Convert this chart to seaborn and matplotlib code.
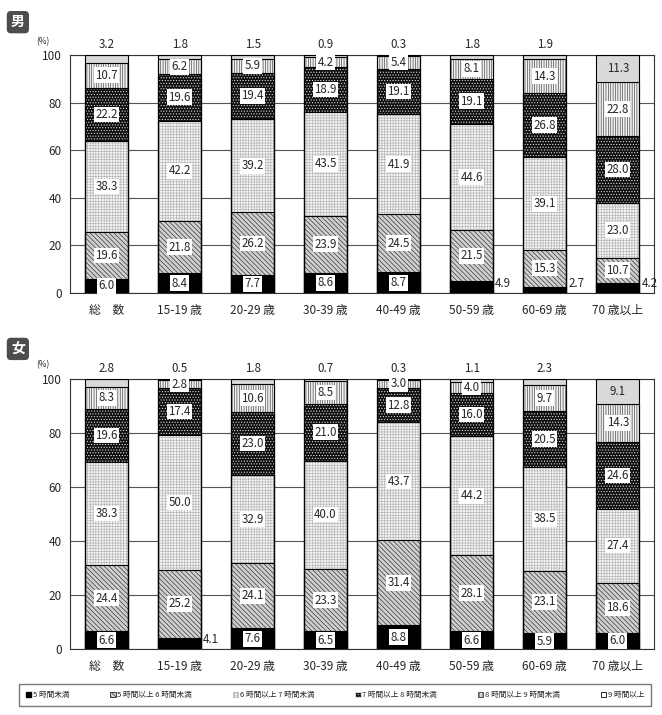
import numpy as np
import matplotlib
matplotlib.use("Agg")
import matplotlib.pyplot as plt
import seaborn as sns
from matplotlib.patches import Patch

sns.set_style("white")
plt.rcParams['font.family'] = ['Noto Sans CJK JP', 'DejaVu Sans']
plt.rcParams['hatch.linewidth'] = 0.45

# ---- data (%) ----
groups = ["総　数", "15-19 歳", "20-29 歳", "30-39 歳", "40-49 歳", "50-59 歳", "60-69 歳", "70 歳以上"]
categories = ["5 時間未満", "5 時間以上 6 時間未満", "6 時間以上 7 時間未満",
              "7 時間以上 8 時間未満", "8 時間以上 9 時間未満", "9 時間以上"]

male_lt5 = [6.0, 8.4, 7.7, 8.6, 8.7, 4.9, 2.7, 4.2]
male_5_6 = [19.6, 21.8, 26.2, 23.9, 24.5, 21.5, 15.3, 10.7]
male_6_7 = [38.3, 42.2, 39.2, 43.5, 41.9, 44.6, 39.1, 23.0]
male_7_8 = [22.2, 19.6, 19.4, 18.9, 19.1, 19.1, 26.8, 28.0]
male_8_9 = [10.7, 6.2, 5.9, 4.2, 5.4, 8.1, 14.3, 22.8]
male_9p = [3.2, 1.8, 1.5, 0.9, 0.3, 1.8, 1.9, 11.3]

female_lt5 = [6.6, 4.1, 7.6, 6.5, 8.8, 6.6, 5.9, 6.0]
female_5_6 = [24.4, 25.2, 24.1, 23.3, 31.4, 28.1, 23.1, 18.6]
female_6_7 = [38.3, 50.0, 32.9, 40.0, 43.7, 44.2, 38.5, 27.4]
female_7_8 = [19.6, 17.4, 23.0, 21.0, 12.8, 16.0, 20.5, 24.6]
female_8_9 = [8.3, 2.8, 10.6, 8.5, 3.0, 4.0, 9.7, 14.3]
female_9p = [2.8, 0.5, 1.8, 0.7, 0.3, 1.1, 2.3, 9.1]

# face colour, hatch colour, hatch for each category
styles = [
    ("black", "black", None),
    ("#cfcfcf", "#2a2a2a", "\\" * 7),
    ("#f4f4f4", "#b4b4b4", "+" * 6),
    ("#101010", "#e8e8e8", "." * 6),
    ("#f0f0f0", "#3c3c3c", "|" * 7),
    ("#d9d9d9", "#d9d9d9", None),
]
BAR_W = 0.59


def draw_panel(ax, rows):
    vals = np.array(rows)
    cum = vals.cumsum(axis=0)
    # stacked bars: tallest cumulative first, each lower layer drawn over it
    for k in range(len(rows) - 1, -1, -1):
        fc, hc, hatch = styles[k]
        sns.barplot(x=groups, y=cum[k], order=groups, ax=ax, color=fc,
                    edgecolor=hc, hatch=hatch, linewidth=0, width=BAR_W,
                    saturation=1, errorbar=None, zorder=2)
    for k in range(len(rows) - 1, -1, -1):
        sns.barplot(x=groups, y=cum[k], order=groups, ax=ax, color="black",
                    fill=False, linewidth=0.8, width=BAR_W, errorbar=None, zorder=3)

    box = dict(boxstyle="square,pad=0.12", fc="white", ec="none")
    n = vals.shape[1]
    fs = 8.3
    for i in range(n):
        for k in range(vals.shape[0]):
            v = vals[k, i]
            mid = cum[k, i] - v / 2
            s = f"{v:.1f}"
            if k == 0 and v < 5:
                ax.annotate(s, (i + BAR_W / 2, 0), xytext=(1.5, 2),
                            textcoords="offset points", ha="left", va="bottom",
                            fontsize=fs, zorder=5)
            elif k == vals.shape[0] - 1:
                if i < n - 1:
                    ax.text(i, 101.5, s, ha="center", va="bottom", fontsize=fs,
                            clip_on=False)
                else:
                    ax.text(i, mid, s, ha="center", va="center", fontsize=fs, zorder=5)
            else:
                ax.text(i, mid, s, ha="center", va="center", fontsize=fs,
                        bbox=box, zorder=5)

    ax.set_ylim(0, 100)
    ax.set_xlim(-0.5, n - 0.5)
    ax.set_yticks([0, 20, 40, 60, 80, 100])
    ax.yaxis.grid(True, color="#555555", linewidth=0.8, zorder=0)
    ax.set_axisbelow(True)
    ax.set_xlabel("")
    ax.set_ylabel("")
    ax.set_xticks(range(n))
    ax.set_xticklabels(groups, fontsize=8.5)
    ax.set_xticks(np.arange(0.5, n - 1, 1.0), minor=True)
    ax.tick_params(axis="x", which="major", length=0, pad=8)
    ax.tick_params(axis="x", which="minor", direction="in", length=3, width=0.8)
    ax.tick_params(axis="y", length=0, labelsize=8.5, pad=6)
    for sp in ax.spines.values():
        sp.set_visible(True)
        sp.set_color("#333333")
        sp.set_linewidth(0.8)
    ax.text(-0.035, 1.035, "(%)", transform=ax.transAxes, fontsize=6,
            ha="right", va="bottom")


fig = plt.figure(figsize=(6.62, 7.15), dpi=100)
ax_m = fig.add_axes([0.1057, 0.5902, 0.8826, 0.3329])
ax_f = fig.add_axes([0.1057, 0.0923, 0.8826, 0.3776])

draw_panel(ax_m, [male_lt5, male_5_6, male_6_7, male_7_8, male_8_9, male_9p])
draw_panel(ax_f, [female_lt5, female_5_6, female_6_7, female_7_8, female_8_9, female_9p])

tag = dict(boxstyle="round,pad=0.3,rounding_size=0.3", fc="#4d4d4d", ec="none")
fig.text(0.027, 0.969, "男", color="white", fontsize=10, fontweight="bold",
         ha="center", va="center", bbox=tag)
fig.text(0.027, 0.512, "女", color="white", fontsize=10, fontweight="bold",
         ha="center", va="center", bbox=tag)

handles = [Patch(facecolor=fc, edgecolor=hc if hatch else "black", hatch=hatch,
                 linewidth=0.6) for fc, hc, hatch in styles]
handles[0] = Patch(facecolor="black", edgecolor="black")
handles[5] = Patch(facecolor="white", edgecolor="black", linewidth=0.6)
fig.legend(handles, categories, loc="lower left", ncol=6,
           bbox_to_anchor=(0.023, 0.007, 0.966, 0.04), mode="expand",
           fontsize=5.5, handlelength=0.7, handleheight=0.7, handletextpad=0.2,
           columnspacing=0.5, frameon=True, fancybox=False, edgecolor="#555555",
           borderpad=0.9)

fig.savefig("out.png", dpi=100)
